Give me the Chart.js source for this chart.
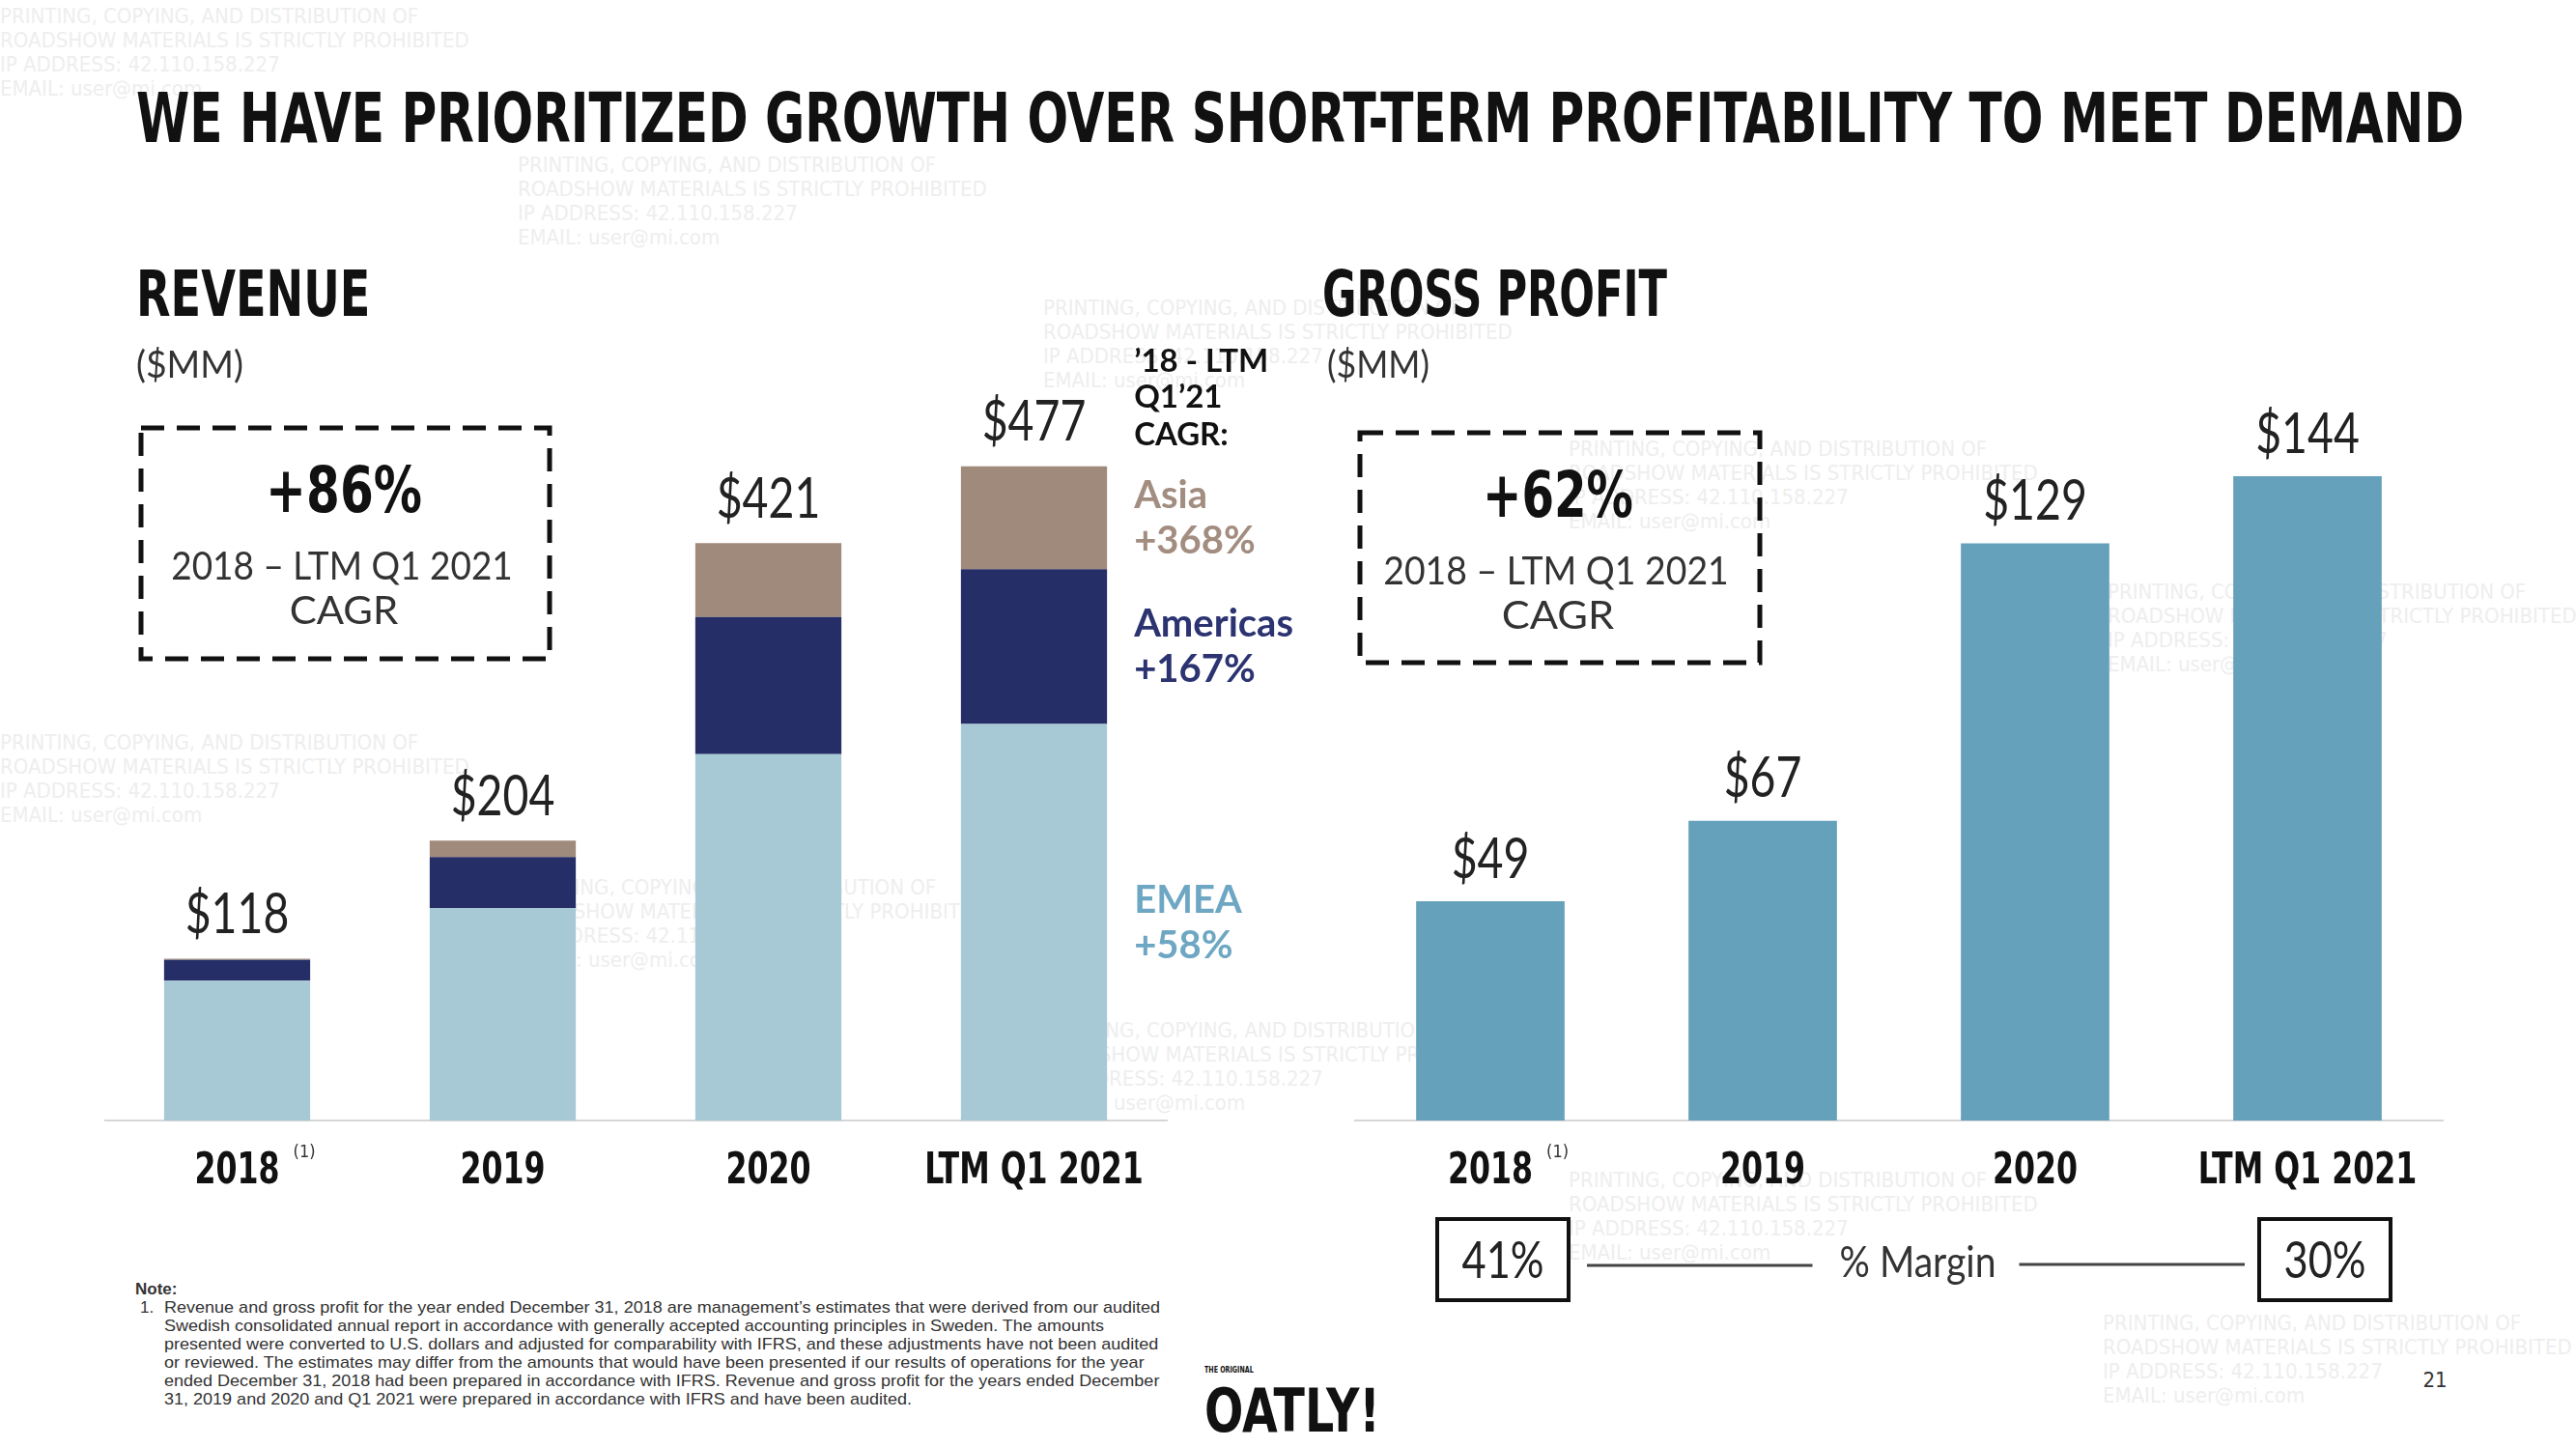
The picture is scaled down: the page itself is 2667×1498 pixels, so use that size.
<!DOCTYPE html>
<html>
<head>
<meta charset="utf-8">
<script src="https://cdn.jsdelivr.net/npm/chart.js@4.4.1/dist/chart.umd.min.js"></script>
<style>
  html, body { margin: 0; padding: 0; background: #fff; }
  body { width: 2667px; height: 1498px; position: relative; overflow: hidden; }
  .t { position: absolute; white-space: nowrap; line-height: 1; color: #111; }
  canvas { position: absolute; }
  #boxes { position: absolute; left: 0; top: 0; }
  .wm { position: absolute; color: #eeeeee; font: 22px 'DejaVu Sans Condensed', sans-serif; line-height: 25px; white-space: pre; }
</style>
</head>
<body>
<svg id="boxes" width="2667" height="1498">
  <rect x="146" y="443" width="423" height="239" fill="none" stroke="#111" stroke-width="5" stroke-dasharray="24 13"/>
  <rect x="1408" y="448" width="414" height="238" fill="none" stroke="#111" stroke-width="5" stroke-dasharray="24 13"/>
</svg>
<canvas id="rev" width="1292" height="952" style="left:108px; top:308px;"></canvas>
<canvas id="gp" width="1128" height="982" style="left:1402px; top:398px;"></canvas>
<script>
// data
var years = ['2018', '2019', '2020', 'LTM Q1 2021'];
var emea = [102, 155, 267, 289];
var americas = [15, 37, 100, 113];
var asia = [1, 12, 54, 75];
var regionNames = ['EMEA', 'Americas', 'Asia'];
var regionCagr = ['+58%', '+167%', '+368%'];
var grossProfit = [49, 67, 129, 144];
var margins = ['41%', '30%'];
var revenueCagr = '+86%';
var profitCagr = '+62%';
var cagrPeriod = '2018 \u2013 LTM Q1 2021';

var COND = "'DejaVu Sans Condensed', sans-serif";
var GOTHIC = "Lato, 'DejaVu Sans', sans-serif";
var barColors = ['#a7c9d6', '#262e67', '#a08a7b'];
var textColors = ['#6ea7c3', '#2b3371', '#a38d80'];

// watermark (goes under everything)
var wmText = 'PRINTING, COPYING, AND DISTRIBUTION OF\nROADSHOW MATERIALS IS STRICTLY PROHIBITED\nIP ADDRESS: 42.110.158.227\nEMAIL: user@mi.com';
[[0, 4], [536, 158], [0, 756], [536, 906], [1080, 306], [1624, 452], [2182, 600], [1080, 1054], [1624, 1209], [2177, 1357]].forEach(function(p) {
    var w = document.createElement('div');
    w.className = 'wm';
    w.textContent = wmText;
    w.style.left = p[0] + 'px';
    w.style.top = p[1] + 'px';
    document.body.insertBefore(w, document.body.firstChild);
});

function put(txt, x, cy, size, font, w, center, color) {
    var d = document.createElement('div');
    d.className = 't';
    d.textContent = txt;
    d.style.font = font;
    d.style.fontSize = size + 'px';
    d.style.left = x + 'px';
    d.style.top = (cy - size / 2) + 'px';
    if (color) d.style.color = color;
    document.body.appendChild(d);
    if (w) {
        var k = w / d.offsetWidth;
        d.style.transformOrigin = center ? '50% 50%' : '0 50%';
        d.style.transform = (center ? 'translateX(-50%) ' : '') + 'scaleX(' + k + ')';
    } else if (center) {
        d.style.transform = 'translateX(-50%)';
    }
    return d;
}

var BOLD = 'bold 10px ' + COND;
var LIGHT = '10px ' + GOTHIC;
put('WE HAVE PRIORITIZED GROWTH OVER SHORT-TERM PROFITABILITY TO MEET DEMAND', 141, 116, 72, BOLD, 2410);
put('REVENUE', 141, 299, 66, BOLD, 242);
put('GROSS PROFIT', 1369, 299, 66, BOLD, 357);
put('($MM)', 141, 372, 38, LIGHT, 111, false, '#333');
put('($MM)', 1374, 372, 38, LIGHT, 106, false, '#333');
put(revenueCagr, 356, 502, 66, BOLD, 162, true);
put(cagrPeriod, 354, 581, 40, LIGHT, 354, true, '#333');
put('CAGR', 356, 627, 40, LIGHT, 112, true, '#333');
put(profitCagr, 1613, 507, 66, BOLD, 156, true);
put(cagrPeriod, 1611, 586, 40, LIGHT, 358, true, '#333');
put('CAGR', 1613, 632, 40, LIGHT, 116, true, '#333');
put('THE ORIGINAL', 1247, 1417, 9, BOLD, 51);
put('OATLY!', 1247, 1455, 62, 'bold 10px ' + COND, 182);
put('21', 2521, 1427, 22, '10px ' + COND, 0, true, '#333');

// footnote
var NOTE = '10px Liberation Sans, Arial, sans-serif';
put('Note:', 140, 1333, 17, 'bold ' + NOTE, 0, false, '#333');
put('1.', 145, 1352, 17, NOTE, 0, false, '#333');
var noteLines = [
    'Revenue and gross profit for the year ended December 31, 2018 are management\u2019s estimates that were derived from our audited',
    'Swedish consolidated annual report in accordance with generally accepted accounting principles in Sweden. The amounts',
    'presented were converted to U.S. dollars and adjusted for comparability with IFRS, and these adjustments have not been audited',
    'or reviewed. The estimates may differ from the amounts that would have been presented if our results of operations for the year',
    'ended December 31, 2018 had been prepared in accordance with IFRS. Revenue and gross profit for the years ended December',
    '31, 2019 and 2020  and Q1 2021 were prepared in accordance with IFRS and have been audited.'
];
var first = put(noteLines[0], 170, 1352, 17, NOTE, 0, false, '#333');
var noteK = 1031 / first.offsetWidth;
first.style.transformOrigin = '0 50%';
first.style.transform = 'scaleX(' + noteK + ')';
for (var i = 1; i < noteLines.length; i++) {
    var ln = put(noteLines[i], 170, 1352 + 19 * i, 17, NOTE, 0, false, '#333');
    ln.style.transformOrigin = '0 50%';
    ln.style.transform = 'scaleX(' + noteK + ')';
}

// squeezed canvas text
function sText(ctx, txt, x, y, k) {
    ctx.save();
    ctx.translate(x, y);
    ctx.scale(k, 1);
    ctx.fillText(txt, 0, 0);
    ctx.restore();
}

var TICK_K = 0.8;
function drawTicks(chart) {
    var ctx = chart.ctx, x = chart.scales.x, b = chart.chartArea.bottom;
    ctx.save();
    ctx.textAlign = 'center';
    ctx.textBaseline = 'middle';
    ctx.fillStyle = '#111';
    ctx.font = 'bold 44px ' + COND;
    years.forEach(function(lab, i) {
        sText(ctx, x.getLabelForValue(i), x.getPixelForValue(i), b + 54, TICK_K);
    });
    var half = ctx.measureText(years[0]).width * TICK_K / 2;
    ctx.font = '18px ' + COND;
    ctx.fillStyle = '#333';
    ctx.textAlign = 'left';
    ctx.fillText('(1)', x.getPixelForValue(0) + half + 14, b + 33);
    ctx.restore();
}

var revLabels = {
    id: 'revLabels',
    afterDraw: function(chart) {
        var ctx = chart.ctx;
        ctx.save();
        ctx.textAlign = 'center';
        ctx.textBaseline = 'middle';
        ctx.fillStyle = '#222';
        ctx.font = '58px ' + GOTHIC;
        chart.getDatasetMeta(2).data.forEach(function(el, i) {
            var total = emea[i] + americas[i] + asia[i];
            sText(ctx, '$' + total, el.x, el.y - 45, 0.8);
        });
        // region CAGR labels next to the last bar
        ctx.textAlign = 'left';
        var last = years.length - 1;
        var lx;
        for (var d = 0; d < 3; d++) {
            var el = chart.getDatasetMeta(d).data[last];
            var yc = (el.y + el.base) / 2;
            lx = el.x + el.width / 2 + 28;
            ctx.fillStyle = textColors[d];
            ctx.font = 'bold 40px ' + GOTHIC;
            ctx.fillText(regionNames[d], lx, yc - 23);
            ctx.fillText(regionCagr[d], lx, yc + 24);
        }
        var t = chart.getDatasetMeta(2).data[last].y;
        ctx.fillStyle = '#111';
        ctx.font = 'bold 33px ' + GOTHIC;
        ctx.fillText('\u201918 - LTM', lx, t - 108);
        ctx.fillText('Q1\u201921', lx, t - 71);
        ctx.fillText('CAGR:', lx, t - 32);
        ctx.restore();
        drawTicks(chart);
    }
};

var gpLabels = {
    id: 'gpLabels',
    afterDraw: function(chart) {
        var ctx = chart.ctx, x = chart.scales.x;
        ctx.save();
        ctx.textAlign = 'center';
        ctx.textBaseline = 'middle';
        ctx.fillStyle = '#222';
        ctx.font = '58px ' + GOTHIC;
        chart.getDatasetMeta(0).data.forEach(function(el, i) {
            sText(ctx, '$' + grossProfit[i], el.x, el.y - 43, 0.8);
        });
        // margin row
        var cy = chart.chartArea.bottom + 144;
        var cx0 = x.getPixelForValue(0) + 13;
        var cx1 = x.getPixelForValue(years.length - 1) + 18;
        ctx.lineWidth = 4;
        ctx.strokeStyle = '#111';
        ctx.font = '52px ' + GOTHIC;
        ctx.fillStyle = '#222';
        [cx0, cx1].forEach(function(cx, i) {
            ctx.strokeRect(cx - 68, cy - 42, 136, 84);
            sText(ctx, margins[i], cx, cy + 2, 85 / ctx.measureText(margins[i]).width);
        });
        ctx.font = '44px ' + GOTHIC;
        var mid = (cx0 + cx1) / 2 + 4;
        var tw = 162;
        ctx.fillStyle = '#333';
        sText(ctx, '% Margin', mid, cy + 4, tw / ctx.measureText('% Margin').width);
        ctx.strokeStyle = '#444';
        ctx.lineWidth = 3;
        ctx.beginPath();
        ctx.moveTo(cx0 + 68 + 19, cy + 6);
        ctx.lineTo(mid - tw / 2 - 28, cy + 6);
        ctx.moveTo(mid + tw / 2 + 24, cy + 5);
        ctx.lineTo(cx1 - 68 - 15, cy + 5);
        ctx.stroke();
        ctx.restore();
        drawTicks(chart);
    }
};

function xAxis(h) {
    return {
        stacked: true,
        grid: { display: false, drawTicks: false },
        border: { display: true, color: '#d6d6d6', width: 2 },
        ticks: { display: false },
        afterFit: function(s) { s.height = h; }
    };
}

new Chart(document.getElementById('rev'), {
    type: 'bar',
    data: {
        labels: years,
        datasets: [
            { label: regionNames[0], data: emea, backgroundColor: barColors[0] },
            { label: regionNames[1], data: americas, backgroundColor: barColors[1] },
            { label: regionNames[2], data: asia, backgroundColor: barColors[2] }
        ]
    },
    options: {
        responsive: false,
        animation: false,
        devicePixelRatio: 1,
        layout: { padding: { right: 192 } },
        plugins: { legend: { display: false }, tooltip: { enabled: false } },
        datasets: { bar: { categoryPercentage: 1, barPercentage: 0.55 } },
        scales: {
            x: xAxis(100),
            y: { stacked: true, display: false, min: 0, max: 600 }
        }
    },
    plugins: [revLabels]
});

new Chart(document.getElementById('gp'), {
    type: 'bar',
    data: {
        labels: years,
        datasets: [{ label: 'Gross profit', data: grossProfit, backgroundColor: '#66a1bc' }]
    },
    options: {
        responsive: false,
        animation: false,
        devicePixelRatio: 1,
        plugins: { legend: { display: false }, tooltip: { enabled: false } },
        datasets: { bar: { categoryPercentage: 1, barPercentage: 0.545 } },
        scales: {
            x: xAxis(220),
            y: { display: false, min: 0, max: 164.5 }
        }
    },
    plugins: [gpLabels]
});
</script>
</body>
</html>
